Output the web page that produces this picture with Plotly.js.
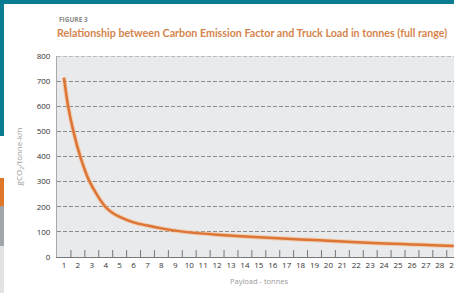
<!DOCTYPE html>
<html>
<head>
<meta charset="utf-8">
<script src="https://cdn.plot.ly/plotly-3.0.1.min.js"></script>
<style>html,body{margin:0;padding:0;background:#fff;}#chart{width:454px;height:293px;}</style>
</head>
<body>
<div id="chart"></div>
<script>
// Data
const payloadTonnes = [1, 1.3, 1.7, 2.2, 2.8, 3.4, 4, 4.5, 5, 6, 7, 8, 9, 10, 12, 14, 16, 18, 20, 22, 24, 26, 28, 29];
const gCO2PerTonneKm = [714, 600, 495, 395, 305, 245, 198, 175, 160, 138, 125, 114, 105, 98, 89, 82, 76, 70, 65, 59, 54, 50, 46, 44];
const xTickValues = [1,2,3,4,5,6,7,8,9,10,11,12,13,14,15,16,17,18,19,20,21,22,23,24,25,26,27,28,29];
const xTickLabels = xTickValues.map(String);
const yTickValues = [0,100,200,300,400,500,600,700,800];
const figureLabel = 'FIGURE 3';
const chartTitle = 'Relationship between Carbon Emission Factor and Truck Load in tonnes (full range)';
const xTitle = 'Payload - tonnes';
const yTitle = 'gCO<sub>2</sub>/tonne-km';

const W = 454, H = 293;
const L = 57, R = 0, T = 56, B = 36;
const pw = W - L - R, ph = H - T - B;
function px(x){ return (x - L) / pw; }
function py(y){ return (H - B - y) / ph; }
function rect(x0, y0, x1, y1, color){
  return {type:'rect', xref:'paper', yref:'paper', x0:px(x0), x1:px(x1), y0:py(y1), y1:py(y0),
          fillcolor:color, line:{width:0}, layer:'above'};
}

const boundaries = xTickValues.slice(0, -1).map(v => v + 0.5);
const yMax = yTickValues[yTickValues.length - 1];
const xRange = [0.5, 29.02];

const trace = {
  x: payloadTonnes, y: gCO2PerTonneKm, type:'scatter', mode:'lines',
  line:{color:'#dc7535', width:2.5, shape:'spline', smoothing:1},
  hoverinfo:'skip'
};
const halo = {
  x: payloadTonnes, y: gCO2PerTonneKm, type:'scatter', mode:'lines',
  line:{color:'rgba(245,180,130,0.55)', width:4.5, shape:'spline', smoothing:1},
  hoverinfo:'skip'
};
// small upward tick marks between the payload labels
const tickMarks = {
  x: boundaries, y: boundaries.map(() => 0), type:'scatter', mode:'markers', cliponaxis:true,
  marker:{symbol:'line-ns', size:10, color:'#777', line:{color:'#777', width:1}},
  hoverinfo:'skip'
};

const layout = {
  width:W, height:H,
  margin:{l:L, r:R, t:T, b:B, pad:0},
  paper_bgcolor:'#ffffff', plot_bgcolor:'#e9eaec',
  showlegend:false,
  font:{family:'Open Sans, sans-serif', size:8, color:'#444'},
  xaxis:{
    range:xRange, tickmode:'array', tickvals:xTickValues, ticktext:xTickLabels,
    ticks:'', ticklabeloverflow:'allow', tickfont:{size:8, color:'#333'},
    showgrid:false, zeroline:false,
    showline:true, linecolor:'#777', linewidth:1
  },
  yaxis:{
    range:[0, yMax], tickmode:'array', tickvals:yTickValues,
    ticks:'', showgrid:true, gridcolor:'#8a8a8a', gridwidth:1, griddash:'4px,2px',
    zeroline:false, showline:true, linecolor:'#aaa', linewidth:1,
    tickfont:{size:8, color:'#333'}, ticklabelstandoff:4,
    title:{text:yTitle, font:{size:8, color:'#999'}, standoff:12}
  },
  annotations:[
    {xref:'paper', yref:'paper', x:0, y:py(20), xanchor:'left', yanchor:'middle', showarrow:false,
     text:'<b>'+figureLabel+'</b>', font:{family:'Open Sans, sans-serif', size:6.5, color:'#8a8a8a'}},
    {xref:'paper', yref:'paper', x:px(55), y:py(33), xanchor:'left', yanchor:'middle', showarrow:false,
     text:'<b>'+chartTitle+'</b>', font:{family:'Lato, sans-serif', size:10.7, color:'#d5844c'}},
    {xref:'paper', yref:'paper', x:px(259), y:py(281), xanchor:'center', yanchor:'middle', showarrow:false,
     text:xTitle, font:{family:'Open Sans, sans-serif', size:7.5, color:'#999'}}
  ],
  shapes:[
    {type:'line', xref:'paper', yref:'y', x0:0, x1:1, y0:yMax, y1:yMax,
     line:{color:'#8a8a8a', width:1, dash:'4px,2px'}, layer:'below'},
    rect(0, 0, W, 4, '#0b7d92'),
    rect(0, 0, 4, 136, '#0b7d92'),
    rect(0, 178, 4, 206, '#e0782c'),
    rect(0, 206, 4, 246, '#a3a6a9'),
    rect(0, 246, 4, 293, '#e2e3e5')
  ]
};

Plotly.newPlot('chart', [tickMarks, halo, trace], layout, {staticPlot:true, displayModeBar:false});
</script>
</body>
</html>
